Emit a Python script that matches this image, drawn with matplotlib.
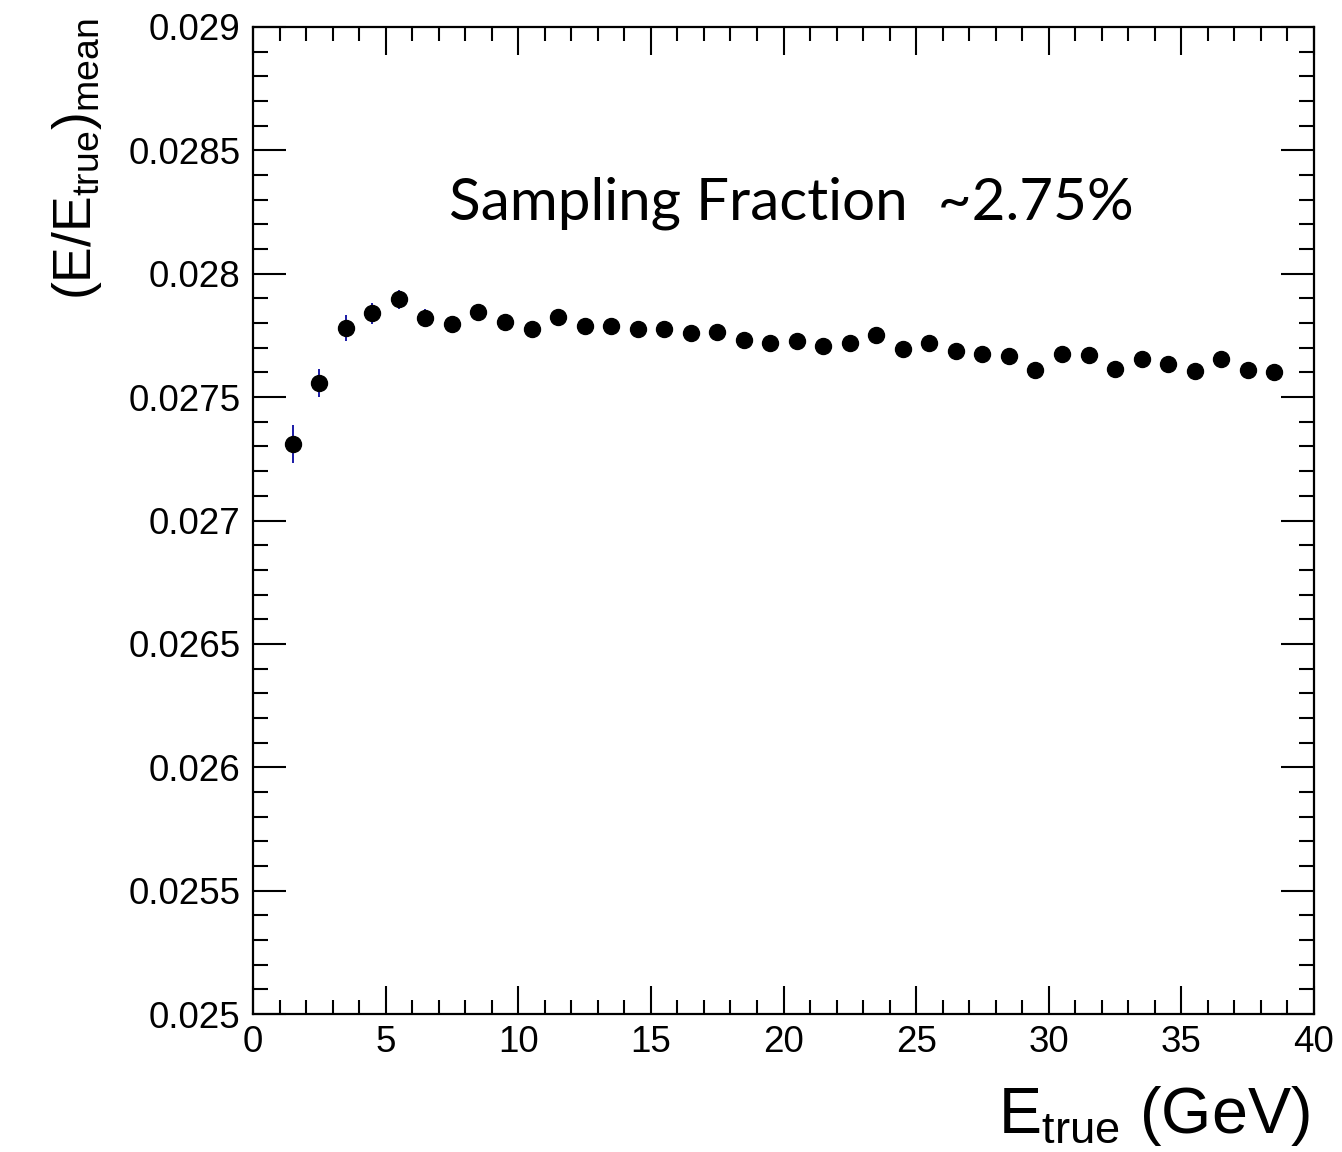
import numpy as np
import matplotlib
matplotlib.use("Agg")
import matplotlib.pyplot as plt
from matplotlib.ticker import MultipleLocator, FixedLocator, FixedFormatter

# Beam energy bin centres (GeV)
e_true = [1.5, 2.5, 3.5, 4.5, 5.5, 6.5, 7.5, 8.5, 9.5, 10.5,
          11.5, 12.5, 13.5, 14.5, 15.5, 16.5, 17.5, 18.5, 19.5, 20.5,
          21.5, 22.5, 23.5, 24.5, 25.5, 26.5, 27.5, 28.5, 29.5, 30.5,
          31.5, 32.5, 33.5, 34.5, 35.5, 36.5, 37.5, 38.5]

# Mean reconstructed / true energy ratio
ratio_mean = [0.027311, 0.027558, 0.027781, 0.027840, 0.027896, 0.027822, 0.027798, 0.027844, 0.027804, 0.027777,
              0.027823, 0.027790, 0.027790, 0.027775, 0.027775, 0.027761, 0.027764, 0.027730, 0.027718, 0.027727,
              0.027706, 0.027718, 0.027753, 0.027694, 0.027719, 0.027686, 0.027676, 0.027667, 0.027610, 0.027673,
              0.027672, 0.027613, 0.027653, 0.027636, 0.027607, 0.027653, 0.027610, 0.027602]

# Uncertainty on the mean
ratio_err = [0.000076, 0.000057, 0.000052, 0.000043, 0.000039, 0.000034, 0.000030, 0.000029, 0.000028, 0.000027,
             0.000026, 0.000026, 0.000025, 0.000025, 0.000024, 0.000024, 0.000023, 0.000023, 0.000023, 0.000022,
             0.000022, 0.000022, 0.000021, 0.000021, 0.000021, 0.000021, 0.000020, 0.000020, 0.000020, 0.000020,
             0.000020, 0.000019, 0.000019, 0.000019, 0.000019, 0.000019, 0.000018, 0.000018]

y_ticks = [0.025, 0.0255, 0.026, 0.0265, 0.027, 0.0275, 0.028, 0.0285, 0.029]
y_tick_labels = ["0.025", "0.0255", "0.026", "0.0265", "0.027", "0.0275", "0.028", "0.0285", "0.029"]
x_ticks = [0, 5, 10, 15, 20, 25, 30, 35, 40]
x_tick_labels = ["0", "5", "10", "15", "20", "25", "30", "35", "40"]

plt.rcParams["font.family"] = ["Liberation Sans", "DejaVu Sans"]
plt.rcParams["mathtext.fontset"] = "custom"
plt.rcParams["mathtext.rm"] = "Liberation Sans"
plt.rcParams["mathtext.it"] = "Liberation Sans"

W, H = 1342, 1152
fig = plt.figure(figsize=(W / 100, H / 100), dpi=100)
ax = fig.add_axes([253 / W, 1 - 1014 / H, (1314 - 253) / W, (1014 - 27) / H])

ax.errorbar(e_true, ratio_mean, yerr=ratio_err, fmt="o", color="black",
            markersize=11.5, ecolor="#1a1aa6", elinewidth=1.4, capsize=0, zorder=3)

ax.set_xlim(0, 40)
ax.set_ylim(0.025, 0.029)

ax.xaxis.set_major_locator(FixedLocator(x_ticks))
ax.xaxis.set_major_formatter(FixedFormatter(x_tick_labels))
ax.xaxis.set_minor_locator(MultipleLocator(1))
ax.yaxis.set_major_locator(FixedLocator(y_ticks))
ax.yaxis.set_major_formatter(FixedFormatter(y_tick_labels))
ax.yaxis.set_minor_locator(MultipleLocator(0.0001))

for s in ax.spines.values():
    s.set_linewidth(1.6)

ax.tick_params(which="both", direction="in", top=True, right=True, width=1.5,
               labelsize=26.5, colors="black")
ax.tick_params(axis="x", which="major", length=20, pad=8)
ax.tick_params(axis="x", which="minor", length=10)
ax.tick_params(axis="y", which="major", length=24, pad=9)
ax.tick_params(axis="y", which="minor", length=11)

ax.text(0.507, 0.8045, "Sampling Fraction  ~2.75%", transform=ax.transAxes,
        ha="center", va="baseline", fontsize=42, family=["Lato", "DejaVu Sans"])

fig.text(1310 / W, 1 - 1133 / H, r"$\mathregular{E_{true}}$ (GeV)",
         ha="right", va="baseline", fontsize=46.5)
fig.text(104 / W, 1 - 18 / H, r"$\mathregular{(E/E_{true})_{mean}}$",
         ha="right", va="top", rotation=90, fontsize=38.5)

fig.savefig("out.png", dpi=100)
